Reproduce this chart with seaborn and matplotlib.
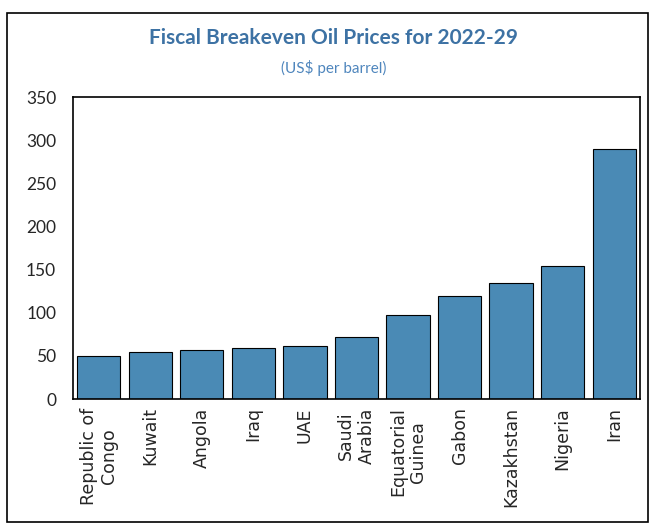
import matplotlib
matplotlib.use("Agg")
import matplotlib.pyplot as plt
import seaborn as sns
import pandas as pd

countries = ["Republic of\nCongo", "Kuwait", "Angola", "Iraq", "UAE", "Saudi\nArabia",
             "Equatorial\nGuinea", "Gabon", "Kazakhstan", "Nigeria", "Iran"]
breakeven = [50, 55, 57, 59, 62, 72, 97, 119, 135, 154, 290]
yticks = [0, 50, 100, 150, 200, 250, 300, 350]

df = pd.DataFrame({"country": countries, "price": breakeven})

sns.set_style("white")
plt.rcParams["font.family"] = ["Lato", "DejaVu Sans"]

fig = plt.figure(figsize=(6.51, 5.25), dpi=100)
ax = fig.add_axes([0.112, 0.24, 0.871, 0.575])

sns.barplot(data=df, x="country", y="price", color="#4a8ab5", saturation=1,
            edgecolor="black", linewidth=0.8, width=0.84, ax=ax)

ax.set_ylim(0, 350)
ax.set_yticks(yticks)
ax.set_xlim(-0.5, len(countries) - 0.5)
ax.set_xlabel("")
ax.set_ylabel("")
ax.tick_params(axis="y", direction="in", length=4, width=1, labelsize=12.5, pad=12)
ax.set_xticks([i + 0.5 for i in range(len(countries) - 1)], minor=True)
ax.tick_params(axis="x", which="major", length=0, pad=6)
ax.tick_params(axis="x", which="minor", direction="in", length=4, width=1)
for lab in ax.get_xticklabels():
    lab.set_rotation(90)
    lab.set_fontfamily(["DejaVu Sans"])
    lab.set_fontsize(12.5)
    lab.set_multialignment("center")
    lab.set_linespacing(1.15)
for s in ax.spines.values():
    s.set_color("black")
    s.set_linewidth(1.2)

fig.text(0.512, 0.928, "Fiscal Breakeven Oil Prices for 2022-29", ha="center", va="center",
         fontsize=15, fontweight="bold", color="#3d72a4")
fig.text(0.512, 0.87, "(US$ per barrel)", ha="center", va="center",
         fontsize=11, color="#4f86bd")

border = plt.Rectangle((0.011, 0.006), 0.984, 0.97, transform=fig.transFigure,
                       fill=False, edgecolor="black", linewidth=1.2)
fig.patches.append(border)

fig.savefig("out.png", dpi=100)
